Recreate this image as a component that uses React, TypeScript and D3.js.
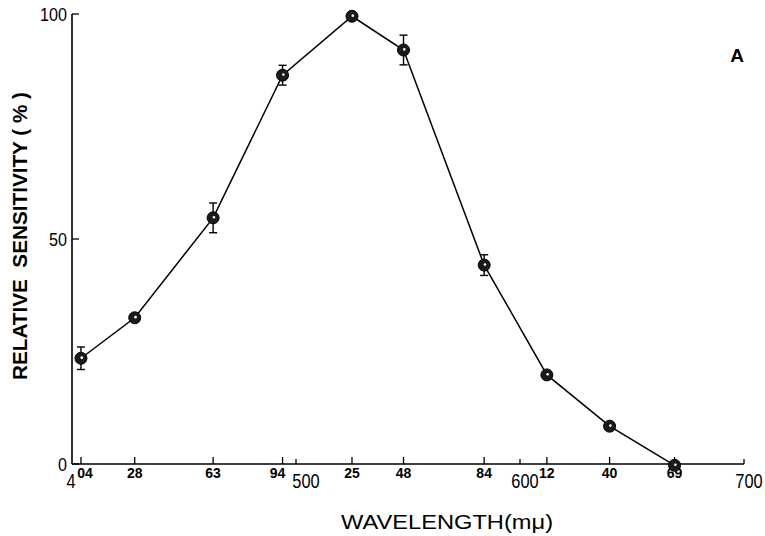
import React from 'react';
import * as d3 from 'd3';

// measured wavelengths (nm / mμ) and relative sensitivity (%)
const wavelengths = [404, 428, 463, 494, 525, 548, 584, 612, 640, 669];
const sensitivity = [23.5, 32.5, 54.7, 86.4, 99.5, 92, 44.2, 19.8, 8.4, -0.3];
const errors = [2.5, 0, 3.3, 2.2, 0, 3.3, 2.3, 0, 0, 0];

// tick labels as printed: small ones at the data wavelengths, big ones at the hundreds
const smallTickLabels = ['04', '28', '63', '94', '25', '48', '84', '12', '40', '69'];
const majorTicks = [400, 500, 600, 700];
const majorTickLabels = ['4', '500', '600', '700'];
const yTicks = [0, 50, 100];

const W = 765;
const H = 536;

export default function App() {
  const x = d3.scaleLinear().domain([400, 700]).range([72, 744]);
  const y = d3.scaleLinear().domain([0, 100]).range([464, 14]);

  const points = wavelengths.map((w, i) => ({ w, v: sensitivity[i], e: errors[i] }));

  const line = d3.line<{ w: number; v: number }>()
    .x(d => x(d.w))
    .y(d => y(d.v));

  const font = '"Liberation Sans", Arial, sans-serif';

  // printed labels sit a little off their ticks where they crowd each other
  const smallShift = (i: number) => (i === 0 ? 4 : i === 3 ? -5 : 0);
  const majorShift = (t: number) => (t === 400 ? -1 : t === 500 ? 10 : 5);

  return (
    <div style={{ position: 'fixed', left: 0, top: 0, width: W, height: H, background: '#fff' }}>
      <svg width={W} height={H} style={{ display: 'block' }}>
        <rect width={W} height={H} fill="#fff" />

        {/* y axis */}
        <line x1={x(400)} x2={x(400)} y1={y(100)} y2={y(0)} stroke="#000" strokeWidth={1.6} />
        {yTicks.map(t => (
          <g key={t}>
            <line x1={x(400)} x2={x(400) + 7} y1={y(t)} y2={y(t)} stroke="#000" strokeWidth={1.3} />
            <text
              transform={`translate(${x(400) - 5},${y(t) + 7}) scale(0.85,1)`}
              textAnchor="end"
              fontFamily={font}
              fontSize={19}
              fill="#000"
            >
              {t}
            </text>
          </g>
        ))}

        {/* x axis */}
        <line x1={x(400)} x2={x(700)} y1={y(0)} y2={y(0)} stroke="#000" strokeWidth={1.6} />
        {wavelengths.map((w, i) => (
          <g key={w}>
            <line x1={x(w)} x2={x(w)} y1={y(0)} y2={y(0) - 7} stroke="#000" strokeWidth={1.3} />
            <text
              x={x(w) + smallShift(i)}
              y={y(0) + 14}
              textAnchor="middle"
              fontFamily={font}
              fontSize={14}
              fontWeight="bold"
              fill="#000"
            >
              {smallTickLabels[i]}
            </text>
          </g>
        ))}
        {majorTicks.map((t, i) => (
          <g key={t}>
            {t > 400 && (
              <line x1={x(t)} x2={x(t)} y1={y(0)} y2={y(0) - 5} stroke="#000" strokeWidth={1.3} />
            )}
            <text
              transform={`translate(${x(t) + majorShift(t)},${y(0) + 24}) scale(0.82,1)`}
              textAnchor="middle"
              fontFamily={font}
              fontSize={20}
              fill="#000"
            >
              {majorTickLabels[i]}
            </text>
          </g>
        ))}

        {/* curve */}
        <path d={line(points) || ''} fill="none" stroke="#000" strokeWidth={1.5} />

        {/* error bars */}
        {points.filter(p => p.e > 0).map(p => (
          <g key={'e' + p.w} stroke="#000" strokeWidth={1.4}>
            <line x1={x(p.w)} x2={x(p.w)} y1={y(p.v + p.e)} y2={y(p.v - p.e)} />
            <line x1={x(p.w) - 4} x2={x(p.w) + 4} y1={y(p.v + p.e)} y2={y(p.v + p.e)} />
            <line x1={x(p.w) - 4} x2={x(p.w) + 4} y1={y(p.v - p.e)} y2={y(p.v - p.e)} />
          </g>
        ))}

        {/* markers */}
        {points.map(p => (
          <g key={'p' + p.w}>
            <circle cx={x(p.w)} cy={y(p.v)} r={6} fill="#1a1a1a" stroke="#000" strokeWidth={1} />
            <circle cx={x(p.w) + 0.8} cy={y(p.v) - 0.6} r={1.3} fill="#fff" />
          </g>
        ))}

        {/* axis titles */}
        <text
          transform="translate(27,236) rotate(-90)"
          textAnchor="middle"
          fontFamily={font}
          fontSize={20}
          fontWeight="bold"
          fill="#000"
          textLength={288}
          lengthAdjust="spacingAndGlyphs"
          style={{ whiteSpace: 'pre' }}
        >
          {'RELATIVE  SENSITIVITY ( % )'}
        </text>
        <text
          x={447}
          y={529}
          textAnchor="middle"
          fontFamily={font}
          fontSize={20}
          fill="#000"
          textLength={212}
          lengthAdjust="spacingAndGlyphs"
        >
          WAVELENGTH(mμ)
        </text>

        <text x={737} y={62} textAnchor="middle" fontFamily={font} fontSize={19} fontWeight="bold" fill="#000">
          A
        </text>
      </svg>
    </div>
  );
}
